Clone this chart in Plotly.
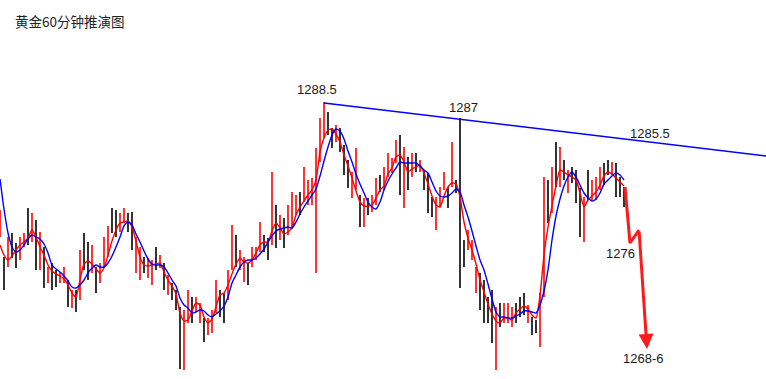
import plotly.graph_objects as go

# ---------------- data ----------------
bar_high = [
    1277.8,1273.1,1275.1,1275.5,1274.5,1275.1,1275.5,1278.0,1277.5,1276.8,
    1275.6,1274.1,1272.1,1272.5,1271.8,1271.6,1272.1,1270.8,1269.8,1269.8,
    1273.8,1275.5,1274.6,1274.3,1272.1,1272.5,1275.1,1276.2,1278.0,1277.8,
    1277.5,1278.0,1277.5,1277.6,1275.1,1274.1,1273.1,1273.0,1272.8,1274.1,
    1273.3,1272.5,1271.3,1270.5,1269.8,1268.1,1267.8,1269.8,1269.1,1269.1,
    1268.5,1267.0,1267.0,1267.8,1270.8,1269.8,1269.5,1271.8,1276.3,1275.3,
    1273.8,1273.1,1272.5,1274.1,1274.1,1276.6,1275.3,1275.0,1281.6,1278.3,
    1277.3,1277.0,1278.3,1279.6,1279.3,1279.6,1282.1,1280.8,1281.0,1284.0,
    1287.0,1288.6,1287.6,1286.0,1286.3,1286.0,1284.3,1282.8,1281.6,1284.0,
    1279.3,1279.0,1279.0,1279.3,1281.0,1281.3,1282.1,1283.5,1283.0,1284.8,
    1285.3,1284.1,1283.1,1283.5,1283.5,1282.8,1281.8,1281.5,1279.1,1279.1,
    1280.1,1281.6,1280.1,1284.6,1280.8,1287.0,1274.8,1275.8,1274.8,1272.1,
    1271.5,1270.8,1269.1,1269.8,1268.1,1268.5,1268.5,1268.5,1268.1,1268.5,
    1269.1,1269.5,1268.3,1267.1,1266.8,1269.5,1281.1,1280.8,1282.1,1284.6,
    1284.1,1282.8,1281.8,1282.1,1281.8,1280.0,1279.1,1281.8,1280.8,1281.1,
    1282.1,1282.5,1282.8,1282.6,1282.5,1281.1,1280.1,
]
bar_low = [
    1275.1,1269.8,1272.1,1273.0,1272.0,1272.8,1274.1,1274.3,1274.6,1271.8,
    1271.8,1270.0,1270.5,1269.8,1270.1,1270.5,1270.5,1268.1,1268.0,1267.6,
    1268.8,1271.8,1270.8,1271.5,1269.5,1270.5,1272.1,1273.1,1275.5,1275.1,
    1275.6,1276.5,1275.6,1273.8,1271.5,1270.8,1271.5,1271.0,1270.3,1271.8,
    1272.0,1269.8,1269.3,1268.8,1267.8,1261.9,1261.8,1266.5,1266.5,1267.6,
    1266.5,1264.6,1265.3,1265.5,1267.5,1267.1,1266.5,1268.8,1271.8,1272.1,
    1271.8,1270.6,1270.3,1272.1,1272.8,1273.6,1273.6,1272.8,1274.3,1274.0,
    1274.8,1274.0,1275.3,1276.0,1277.3,1277.3,1278.6,1278.3,1278.3,1271.5,
    1282.6,1285.0,1285.3,1284.0,1284.6,1283.6,1281.3,1280.0,1279.0,1279.8,
    1276.1,1276.1,1277.3,1277.6,1278.3,1279.6,1279.8,1281.1,1281.5,1282.5,
    1279.3,1278.0,1279.8,1281.1,1281.6,1281.6,1279.8,1277.5,1277.1,1275.8,
    1278.1,1279.8,1278.0,1280.1,1279.5,1270.0,1272.1,1273.8,1272.8,1269.5,
    1267.8,1266.5,1266.5,1264.5,1261.8,1266.1,1266.5,1266.5,1266.1,1266.5,
    1267.1,1267.3,1266.5,1265.3,1265.5,1264.1,1269.1,1276.5,1277.5,1280.1,
    1280.1,1280.8,1279.5,1280.5,1278.5,1275.1,1274.6,1278.8,1278.8,1278.8,
    1279.8,1280.3,1281.3,1281.3,1279.1,1279.1,1278.1,
]
# r = rising (red) bar, k = falling (black) bar
bar_dir = list(
    "rkrkkrrkrk" "rkrkkrrkrk" "rkkrkrrrkk" "rrkkrrkrrk" "rkrkkkrrkr"
    "rkrrrkkrrk" "rrkrrrkkrk" "rkrrrkrrrr" "rrkkrkkkrr" "krkrrkrrrr"
    "krkrkrkkkr" "rrkrkkkrrr" "kkkkrkrrrk" "kkrkkrrkrk" "rkrkkkrkrr"
    "rkkrkkk"
)
ma_fast = [
    1274.3,1273.3,1272.8,1273.2,1273.8,1274.3,1274.6,1275.0,1275.8,1275.1,
    1274.1,1273.3,1272.3,1271.7,1271.4,1271.2,1270.9,1270.3,1269.5,1269.1,
    1270.8,1272.4,1272.7,1272.4,1271.9,1271.5,1272.0,1273.3,1274.7,1275.8,
    1276.5,1276.6,1276.7,1276.1,1274.7,1273.1,1272.3,1272.2,1272.3,1272.4,
    1272.5,1271.6,1270.8,1270.2,1269.4,1267.5,1266.7,1266.8,1267.7,1268.5,
    1268.3,1267.1,1266.5,1266.9,1268.1,1269.3,1269.5,1270.3,1271.4,1272.4,
    1273.0,1272.6,1272.5,1272.8,1273.5,1274.3,1274.6,1274.6,1275.7,1276.5,
    1276.0,1275.4,1275.6,1276.0,1277.3,1278.1,1278.7,1279.3,1279.8,1280.8,
    1283.6,1285.0,1285.8,1285.9,1285.4,1284.6,1283.3,1282.2,1281.0,1279.7,
    1278.6,1278.2,1278.2,1278.3,1279.0,1279.8,1280.2,1281.4,1282.0,1283.1,
    1283.3,1282.6,1281.6,1281.9,1282.1,1282.3,1281.5,1280.4,1279.2,1278.3,
    1278.1,1279.2,1280.1,1280.5,1280.4,1279.1,1276.6,1275.0,1273.8,1272.4,
    1270.8,1269.6,1268.4,1267.4,1266.7,1266.5,1267.0,1267.0,1266.8,1267.5,
    1267.9,1268.2,1267.9,1267.3,1267.0,1269.3,1273.3,1276.1,1278.2,1280.2,
    1281.8,1281.6,1281.3,1281.1,1280.8,1279.5,1278.1,1278.8,1279.2,1279.6,
    1280.3,1281.2,1281.6,1281.4,1281.0,1280.6,1280.2,
]
ma_slow = [
    1280.9,1277.9,1275.5,1274.1,1273.6,1273.8,1274.3,1274.9,1275.3,1275.1,
    1274.9,1274.4,1273.5,1272.3,1271.9,1271.6,1271.2,1270.7,1270.1,1270.0,
    1270.3,1270.8,1271.5,1272.0,1272.3,1272.1,1272.1,1272.5,1273.2,1274.1,
    1275.1,1276.2,1276.6,1276.3,1275.4,1274.6,1273.7,1272.9,1272.4,1272.3,
    1272.3,1272.1,1271.5,1270.8,1270.2,1269.0,1268.3,1268.0,1267.5,1267.6,
    1267.8,1267.7,1267.3,1267.1,1267.4,1267.7,1268.2,1269.1,1270.5,1271.3,
    1272.1,1272.6,1272.8,1272.8,1273.0,1273.4,1273.9,1274.6,1275.2,1275.7,
    1275.9,1276.0,1276.1,1276.0,1276.6,1277.4,1278.1,1278.7,1279.3,1279.9,
    1281.2,1282.7,1284.1,1285.3,1285.9,1285.7,1284.9,1283.7,1282.6,1281.4,
    1280.4,1279.5,1278.6,1278.1,1277.9,1278.6,1279.8,1280.7,1281.4,1282.0,
    1282.6,1282.5,1282.5,1282.5,1282.5,1282.2,1281.8,1281.5,1280.6,1279.7,
    1279.2,1279.1,1279.2,1279.5,1279.9,1279.6,1278.3,1277.1,1275.7,1274.2,
    1272.8,1271.8,1270.4,1268.9,1267.6,1267.1,1267.1,1267.0,1267.0,1267.2,
    1267.4,1267.7,1267.7,1267.6,1267.5,1268.3,1269.7,1271.8,1274.8,1277.2,
    1278.9,1280.2,1281.1,1281.6,1281.1,1280.3,1279.5,1279.0,1278.7,1278.9,
    1279.5,1280.4,1280.8,1281.2,1281.5,1281.3,1280.8,
]
bar_index = list(range(len(bar_high)))

# resistance trendline (through the 1288.5 and 1287 highs, extended right)
trend_x = [81, 191.5]
trend_y = [1288.5, 1283.2]

# projected path (red arrow)
proj_x = [156.25, 157.5, 159.75, 161.75]
proj_y = [1280.1, 1274.5, 1275.8, 1263.9]

# price labels
label_text = ["1288.5", "1287", "1285.5", "1276", "1268-6"]
label_x = [79.3, 115.8, 162.6, 155.0, 160.8]
label_y = [1289.9, 1288.1, 1285.5, 1273.5, 1263.0]

title_text = "黄金60分钟推演图"

# ---------------- figure ----------------
def segs(color):
    xs, ys = [], []
    for i, h, l, d in zip(bar_index, bar_high, bar_low, bar_dir):
        if d == color:
            xs += [i, i, None]
            ys += [l, h, None]
    return xs, ys

fig = go.Figure()
kx, ky = segs("k")
rx, ry = segs("r")
fig.add_trace(go.Scatter(x=kx, y=ky, mode="lines", line=dict(color="#000000", width=1.6),
                         hoverinfo="skip"))
fig.add_trace(go.Scatter(x=rx, y=ry, mode="lines", line=dict(color="#ff0000", width=1.6),
                         hoverinfo="skip"))
fig.add_trace(go.Scatter(x=bar_index, y=ma_fast, mode="lines",
                         line=dict(color="#ff0000", width=1.4, shape="spline", smoothing=0.6)))
fig.add_trace(go.Scatter(x=bar_index, y=ma_slow, mode="lines",
                         line=dict(color="#0000ff", width=1.4, shape="spline", smoothing=0.6)))
fig.add_trace(go.Scatter(x=trend_x, y=trend_y, mode="lines",
                         line=dict(color="#0000ff", width=1.4)))
fig.add_trace(go.Scatter(x=proj_x[:3], y=proj_y[:3], mode="lines",
                         line=dict(color="#ff1a1a", width=3)))
fig.add_annotation(x=proj_x[3], y=proj_y[3], ax=proj_x[2], ay=proj_y[2],
                   xref="x", yref="y", axref="x", ayref="y", text="",
                   showarrow=True, arrowhead=2, arrowsize=1, arrowwidth=3,
                   arrowcolor="#ff1a1a", standoff=0)

for t, x, y in zip(label_text, label_x, label_y):
    fig.add_annotation(x=x, y=y, xref="x", yref="y", text=t, showarrow=False,
                       font=dict(family="Liberation Sans, Arial, sans-serif", size=13, color="#1a1a1a"))

fig.add_annotation(x=13 / 766, y=1 - 21 / 379, xref="paper", yref="paper", text=title_text,
                   showarrow=False, xanchor="left", yanchor="middle",
                   font=dict(family="Noto Sans CJK SC", size=13.5, color="#222222"))

fig.update_layout(
    width=766, height=379,
    margin=dict(l=0, r=0, t=0, b=0),
    paper_bgcolor="white", plot_bgcolor="white",
    showlegend=False,
    xaxis=dict(visible=False, range=[0, 191.5]),
    yaxis=dict(visible=False, range=[1260.9, 1298.8]),
)

fig.write_html("out.html")
